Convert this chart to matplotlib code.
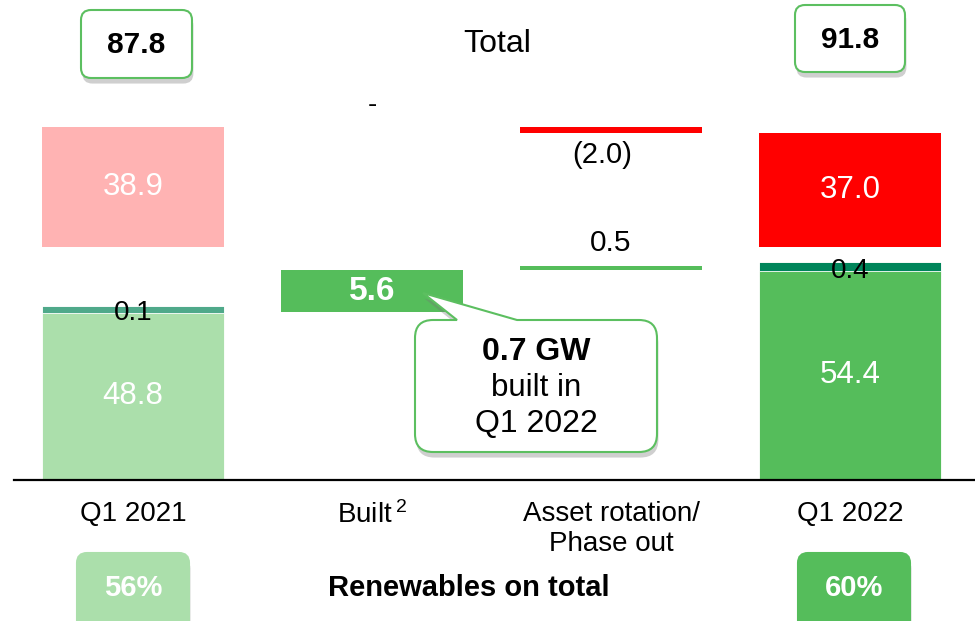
import numpy as np
import matplotlib
matplotlib.use('Agg')
import matplotlib.pyplot as plt
import matplotlib.patheffects as pe
from matplotlib.patches import FancyBboxPatch, PathPatch
from matplotlib.path import Path
from matplotlib.transforms import IdentityTransform

plt.rcParams['font.family'] = ['Liberation Sans', 'DejaVu Sans']
plt.rcParams['mathtext.fontset'] = 'custom'
plt.rcParams['mathtext.rm'] = 'Liberation Sans'
plt.rcParams['mathtext.it'] = 'Liberation Sans'

# data (GW)
categories = ['Q1 2021', r'Built$\,^{2}$', 'Asset rotation/\nPhase out', 'Q1 2022']
renewables = [48.8, 54.4]        # Q1 2021, Q1 2022
other = [0.1, 0.4]
conventional = [38.9, 37.0]
built_renew = 5.6
built_conv = 0.0
rotation_renew = 0.5
rotation_conv = -2.0
callout_lines = ['0.7 GW', 'built in', 'Q1 2022']

totals = [r + o + c for r, o, c in zip(renewables, other, conventional)]
shares = [(r + o) / t for r, o, t in zip(renewables, other, totals)]

# colours
c_ren21, c_oth21, c_con21 = '#abdfab', '#4fa98a', '#ffb3b3'
c_ren22, c_oth22, c_con22 = '#55bd5b', '#00855a', '#ff0000'
c_edge = '#5cbf60'

W_PX, H_PX = 975, 621
fig = plt.figure(figsize=(W_PX / 100, H_PX / 100), dpi=100)
ax = fig.add_axes([14 / W_PX, 141 / H_PX, 961 / W_PX, 480 / H_PX])

# broken value axis like the slide: renewables block below, conventional block on top
CONV_BASE = 60.0
BP_V = [0, 48.8, 55.0, CONV_BASE, 200.0]
BP_H = [0, 167, 214, 233, 233 + 140 * 3.08]


def fwd(v):
    return np.interp(v, BP_V, BP_H)


def inv(h):
    return np.interp(h, BP_H, BP_V)


ax.set_yscale('function', functions=(fwd, inv))
ax.set_ylim(0, inv(480))
ax.set_xlim(-0.498, 3.523)

BW = 0.76
TEAL_W = BW - 0.046


def mid(b, t):
    return inv((fwd(b) + fwd(t)) / 2)


def fmt(v):
    if v == 0:
        return '-'
    if v < 0:
        return f'({abs(v):.1f})'
    return f'{v:.1f}'


# Q1 2021 and Q1 2022 stacks
for i, xpos, cr, co, cc in [(0, 0, c_ren21, c_oth21, c_con21), (1, 3, c_ren22, c_oth22, c_con22)]:
    ax.bar(xpos, renewables[i], BW, color=cr, edgecolor='white', linewidth=0.6, zorder=3)
    ax.bar(xpos, other[i], TEAL_W, bottom=renewables[i], color=co, edgecolor=co,
           linewidth=8, zorder=2)
    ax.bar(xpos, conventional[i], BW, bottom=CONV_BASE, color=cc)
    ax.text(xpos, mid(0, renewables[i]), fmt(renewables[i]), color='white', fontsize=22.5,
            ha='center', va='center', zorder=5)
    ax.text(xpos, renewables[i], fmt(other[i]), color='black', fontsize=20,
            ha='center', va='center', zorder=5)
    ax.text(xpos, mid(CONV_BASE, CONV_BASE + conventional[i]), fmt(conventional[i]),
            color='white', fontsize=22.5, ha='center', va='center')

# Built
b0 = renewables[0] + other[0]
ax.bar(1, built_renew, BW, bottom=b0, color=c_ren22)
ax.text(1, mid(b0, b0 + built_renew), fmt(built_renew), color='white', fontsize=24,
        fontweight='bold', ha='center', va='center')
ax.annotate(fmt(built_conv), xy=(1, CONV_BASE + conventional[0]), xytext=(0, 22),
            textcoords='offset pixels', ha='center', va='center', fontsize=20)

# Asset rotation / phase out
r0 = b0 + built_renew
ax.bar(2, rotation_renew, BW, bottom=r0, color=c_ren22)
ax.annotate(fmt(rotation_renew), xy=(2, r0 + rotation_renew), xytext=(0, 23),
            textcoords='offset pixels', ha='center', va='center', fontsize=21.5)
c0 = CONV_BASE + conventional[0] + built_conv
ax.bar(2, rotation_conv, BW, bottom=c0, color=c_con22)
ax.annotate(fmt(rotation_conv), xy=(2, c0 + rotation_conv), xytext=(-9, -22),
            textcoords='offset pixels', ha='center', va='center', fontsize=21)

ax.set_xticks(range(len(categories)), labels=categories, fontsize=20)
ax.tick_params(axis='x', length=0, pad=15)
ax.set_yticks([])
for s in ['top', 'left', 'right']:
    ax.spines[s].set_visible(False)
ax.spines['bottom'].set_linewidth(1.6)
ax.spines['bottom'].set_zorder(6)
ax.set_facecolor('none')

shadow = [pe.SimplePatchShadow(offset=(1, -4), shadow_rgbFace='#777777', alpha=0.35), pe.Normal()]


def rbox(cx, cy, w, h, fc, ec, r=10):
    p = FancyBboxPatch((cx - w / 2, H_PX - cy - h / 2), w, h,
                       boxstyle=f'round,pad=0,rounding_size={r}',
                       transform=IdentityTransform(), fc=fc, ec=ec, lw=1.5, zorder=3)
    p.set_path_effects(shadow)
    fig.add_artist(p)


def ftext(cx, cy, s, **kw):
    fig.text(cx, H_PX - cy, s, transform=IdentityTransform(), ha='center', va='center',
             zorder=4, **kw)


# totals on top
rbox(136.5, 44, 111, 68, 'white', c_edge)
ftext(136.5, 45, f'{totals[0]:.1f}', fontsize=21.5, fontweight='bold')
rbox(850, 38.5, 110, 67, 'white', c_edge)
ftext(850, 39.5, f'{totals[1]:.1f}', fontsize=21.5, fontweight='bold')
ftext(497, 44, 'Total', fontsize=23)

# renewables share at bottom
rbox(133, 592, 112, 78, c_ren21, c_ren21)
ftext(133, 588, f'{shares[0]:.0%}', fontsize=21, fontweight='bold', color='white')
rbox(854, 592, 112, 78, c_ren22, c_ren22)
ftext(854, 588, f'{shares[1]:.0%}', fontsize=21, fontweight='bold', color='white')
ftext(469, 588, 'Renewables on total', fontsize=21, fontweight='bold')

# callout
L, R, T, B, rr = 415, 657, H_PX - 320, H_PX - 452, 18
tip = (423, H_PX - 293)
verts = [(L + rr, T), (457, T), tip, (517, T), (R - rr, T),
         (R, T), (R, T - rr), (R, B + rr), (R, B), (R - rr, B),
         (L + rr, B), (L, B), (L, B + rr), (L, T - rr), (L, T), (L + rr, T), (L + rr, T)]
codes = [Path.MOVETO, Path.LINETO, Path.LINETO, Path.LINETO, Path.LINETO,
         Path.CURVE3, Path.CURVE3, Path.LINETO, Path.CURVE3, Path.CURVE3,
         Path.LINETO, Path.CURVE3, Path.CURVE3, Path.LINETO, Path.CURVE3, Path.CURVE3,
         Path.CLOSEPOLY]
call = PathPatch(Path(verts, codes), transform=IdentityTransform(), fc='white', ec=c_edge,
                 lw=1.5, zorder=3)
call.set_path_effects(shadow)
fig.add_artist(call)
ftext(536, 352, callout_lines[0], fontsize=23, fontweight='bold')
ftext(536, 388, callout_lines[1], fontsize=22.5)
ftext(536, 424, callout_lines[2], fontsize=23)

fig.savefig('out.png', dpi=100)
